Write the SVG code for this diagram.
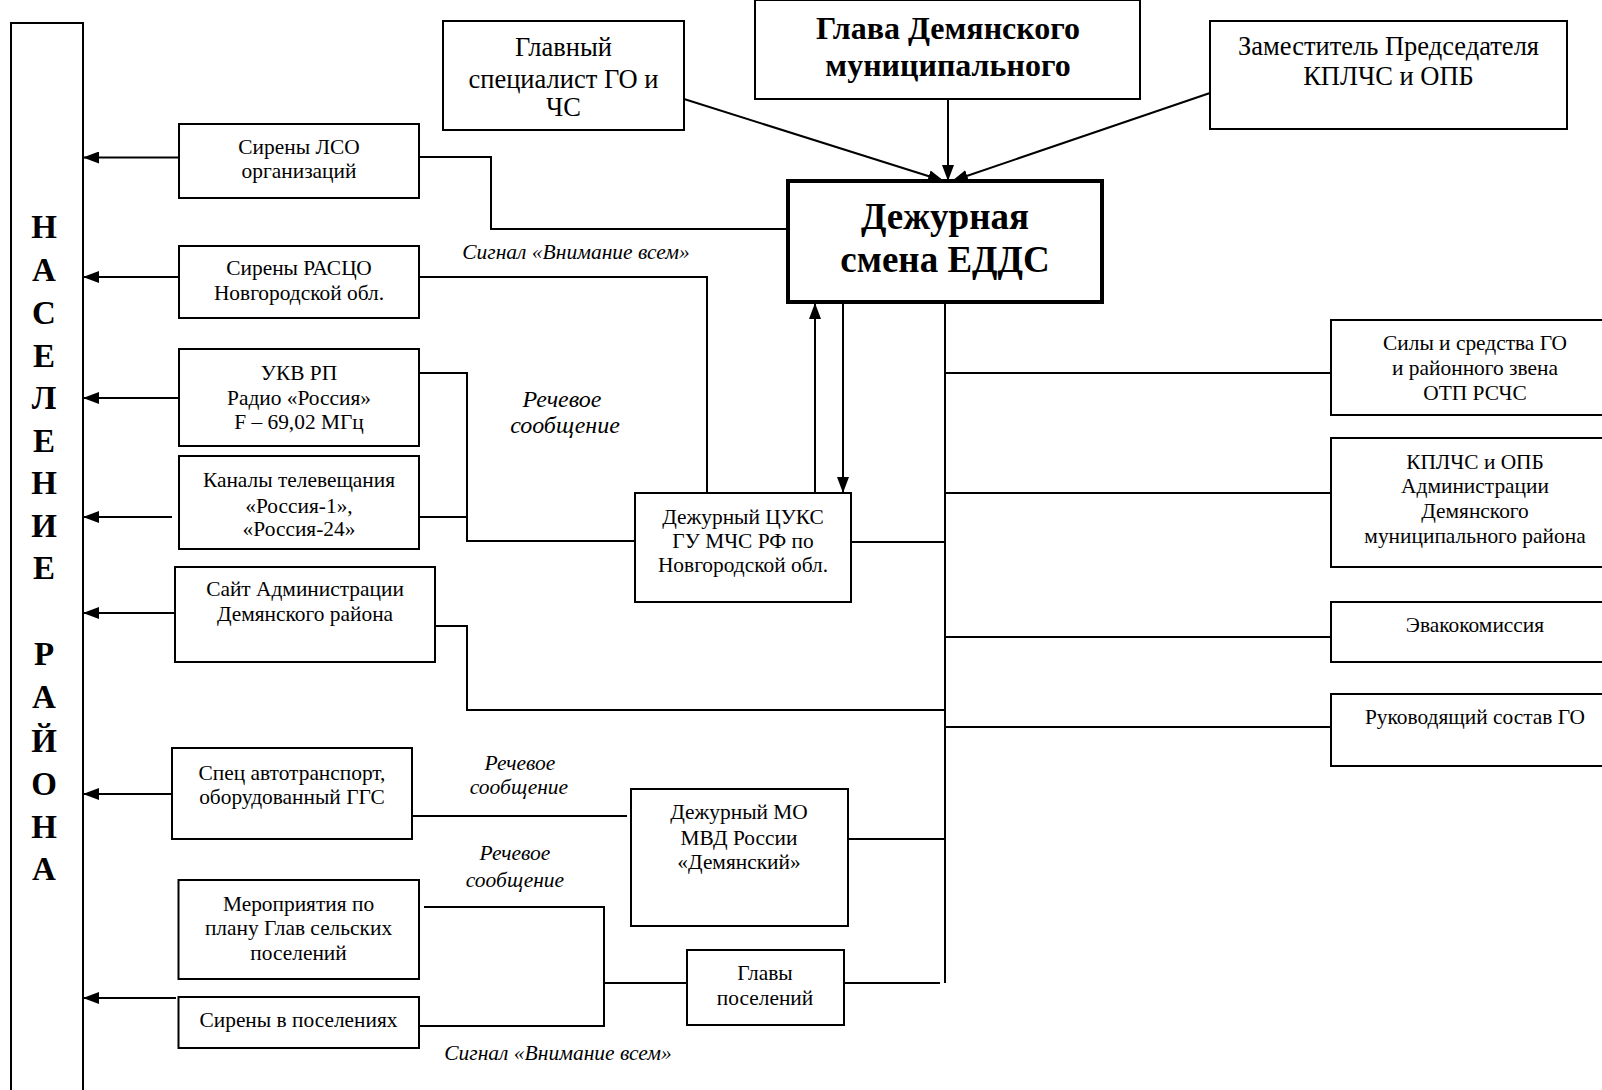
<svg xmlns="http://www.w3.org/2000/svg" width="1602" height="1090" viewBox="0 0 1602 1090">
<style>
.box{fill:#fff;stroke:#000;stroke-width:2}
.thick{stroke-width:4}
.t{font-family:"Liberation Serif","Times New Roman",serif;font-size:21.4px;text-anchor:middle;fill:#000}
.b{font-weight:bold}
.it{font-style:italic;font-size:21.5px}
.ln{fill:none;stroke:#000;stroke-width:2}
</style>
<defs>
<marker id="ah" viewBox="0 0 16 12" refX="16" refY="6" markerWidth="16" markerHeight="12" orient="auto" markerUnits="userSpaceOnUse"><path d="M0,0 L16,6 L0,12 z" fill="#000"/></marker>
</defs>
<rect width="1602" height="1090" fill="#fff"/>

<g id="connectors">
<path class="ln" marker-end="url(#ah)" d="M179,157.5 H83"/>
<path class="ln" marker-end="url(#ah)" d="M179,277 H83"/>
<path class="ln" marker-end="url(#ah)" d="M179,398 H83"/>
<path class="ln" marker-end="url(#ah)" d="M172,517 H83"/>
<path class="ln" marker-end="url(#ah)" d="M175,613 H83"/>
<path class="ln" marker-end="url(#ah)" d="M172,794 H83"/>
<path class="ln" marker-end="url(#ah)" d="M176,998 H83"/>
<path class="ln" marker-end="url(#ah)" d="M684,99 L944,181"/>
<path class="ln" marker-end="url(#ah)" d="M948,99 V181"/>
<path class="ln" marker-end="url(#ah)" d="M1210,93 L952,181"/>
<path class="ln" d="M419,157 H491 V229 H788"/>
<path class="ln" d="M419,277 H707 V493"/>
<path class="ln" d="M419,373 H467 V541 H635"/>
<path class="ln" d="M419,517 H467"/>
<path class="ln" d="M435,626 H467 V710 H945"/>
<path class="ln" marker-end="url(#ah)" d="M815,493 V303"/>
<path class="ln" marker-end="url(#ah)" d="M843,303 V493"/>
<path class="ln" d="M945,303 V983"/>
<path class="ln" d="M851,542 H945"/>
<path class="ln" d="M945,373 H1331"/>
<path class="ln" d="M945,493 H1331"/>
<path class="ln" d="M945,637 H1331"/>
<path class="ln" d="M945,727 H1331"/>
<path class="ln" d="M848,839 H945"/>
<path class="ln" d="M843,983 H940"/>
<path class="ln" d="M412,816 H627"/>
<path class="ln" d="M424,907 H604 V1026 H419"/>
<path class="ln" d="M604,983 H687"/>
</g>

<g id="labels">
<text class="t it" x="576" y="259">Сигнал «Внимание всем»</text>
<text class="t it" style="font-size:24px" x="562" y="407">Речевое</text>
<text class="t it" style="font-size:24px" x="565" y="433">сообщение</text>
<text class="t it" x="520" y="770">Речевое</text>
<text class="t it" x="519" y="794">сообщение</text>
<text class="t it" x="515" y="860">Речевое</text>
<text class="t it" x="515" y="887">сообщение</text>
<text class="t it" x="558" y="1060">Сигнал «Внимание всем»</text>
</g>

<g id="population">
<rect class="box" x="11" y="23" width="72" height="1100"/>
<g class="t b" style="font-size:33px">
<text x="44" y="238">Н</text>
<text x="44" y="281">А</text>
<text x="44" y="324">С</text>
<text x="44" y="367">Е</text>
<text x="44" y="409">Л</text>
<text x="44" y="452">Е</text>
<text x="44" y="494">Н</text>
<text x="44" y="537">И</text>
<text x="44" y="579">Е</text>
<text x="44" y="665">Р</text>
<text x="44" y="708">А</text>
<text x="44" y="752">Й</text>
<text x="44" y="795">О</text>
<text x="44" y="838">Н</text>
<text x="44" y="880">А</text>
</g>
</g>

<g id="glavny-spec">
<rect class="box" x="443" y="21" width="241" height="109"/>
<text class="t" style="font-size:26.5px" x="563.5" y="56">Главный</text>
<text class="t" style="font-size:26.5px" x="563.5" y="88">специалист ГО и</text>
<text class="t" style="font-size:26.5px" x="563.5" y="116">ЧС</text>
</g>

<g id="glava">
<rect class="box" x="755" y="0" width="385" height="99"/>
<text class="t b" style="font-size:32px" x="948" y="39">Глава Демянского</text>
<text class="t b" style="font-size:32px" x="948" y="76">муниципального</text>
</g>

<g id="zamestitel">
<rect class="box" x="1210" y="21" width="357" height="108"/>
<text class="t" style="font-size:26.5px" x="1388.5" y="55">Заместитель Председателя</text>
<text class="t" style="font-size:26.5px" x="1388.5" y="85">КПЛЧС и ОПБ</text>
</g>

<g id="edds">
<rect class="box thick" x="788" y="181" width="314" height="121"/>
<text class="t b" style="font-size:37px" x="945" y="229">Дежурная</text>
<text class="t b" style="font-size:37px" x="945" y="272">смена ЕДДС</text>
</g>

<g id="sireny-lso">
<rect class="box" x="179" y="124" width="240" height="74"/>
<text class="t" x="299" y="154">Сирены ЛСО</text>
<text class="t" x="299" y="178">организаций</text>
</g>

<g id="sireny-rasco">
<rect class="box" x="179" y="246" width="240" height="72"/>
<text class="t" x="299" y="275">Сирены РАСЦО</text>
<text class="t" x="299" y="300">Новгородской обл.</text>
</g>

<g id="ukv">
<rect class="box" x="179" y="349" width="240" height="97"/>
<text class="t" x="299" y="380">УКВ РП</text>
<text class="t" x="299" y="405">Радио «Россия»</text>
<text class="t" x="299" y="429">F – 69,02 МГц</text>
</g>

<g id="tv">
<rect class="box" x="179" y="456" width="240" height="93"/>
<text class="t" x="299" y="487">Каналы телевещания</text>
<text class="t" x="299" y="513">«Россия-1»,</text>
<text class="t" x="299" y="536">«Россия-24»</text>
</g>

<g id="sait">
<rect class="box" x="175" y="567" width="260" height="95"/>
<text class="t" x="305" y="596">Сайт Администрации</text>
<text class="t" x="305" y="621">Демянского района</text>
</g>

<g id="cuks">
<rect class="box" x="635" y="493" width="216" height="109"/>
<text class="t" x="743" y="524">Дежурный ЦУКС</text>
<text class="t" x="743" y="548">ГУ МЧС РФ по</text>
<text class="t" x="743" y="572">Новгородской обл.</text>
</g>

<g id="sily">
<rect class="box" x="1331" y="320" width="300" height="95"/>
<text class="t" x="1475" y="350">Силы и средства ГО</text>
<text class="t" x="1475" y="375">и районного звена</text>
<text class="t" x="1475" y="400">ОТП РСЧС</text>
</g>

<g id="kplchs">
<rect class="box" x="1331" y="438" width="300" height="129"/>
<text class="t" x="1475" y="469">КПЛЧС и ОПБ</text>
<text class="t" x="1475" y="493">Администрации</text>
<text class="t" x="1475" y="518">Демянского</text>
<text class="t" x="1475" y="543">муниципального района</text>
</g>

<g id="evako">
<rect class="box" x="1331" y="602" width="300" height="60"/>
<text class="t" x="1475" y="632">Эвакокомиссия</text>
</g>

<g id="rukovod">
<rect class="box" x="1331" y="694" width="300" height="72"/>
<text class="t" x="1475" y="724">Руководящий состав ГО</text>
</g>

<g id="spec">
<rect class="box" x="172" y="748" width="240" height="91"/>
<text class="t" x="292" y="780">Спец автотранспорт,</text>
<text class="t" x="292" y="804">оборудованный ГГС</text>
</g>

<g id="mvd">
<rect class="box" x="631" y="789" width="217" height="137"/>
<text class="t" x="739" y="819">Дежурный МО</text>
<text class="t" x="739" y="845">МВД России</text>
<text class="t" x="739" y="869">«Демянский»</text>
</g>

<g id="meropr">
<rect class="box" x="178.5" y="880" width="240.5" height="99"/>
<text class="t" x="298.5" y="911">Мероприятия по</text>
<text class="t" x="298.5" y="935">плану Глав сельских</text>
<text class="t" x="298.5" y="960">поселений</text>
</g>

<g id="sireny-pos">
<rect class="box" x="178.5" y="997" width="240.5" height="51"/>
<text class="t" x="298.5" y="1027">Сирены в поселениях</text>
</g>

<g id="glavy">
<rect class="box" x="687" y="950" width="157" height="75"/>
<text class="t" x="765" y="980">Главы</text>
<text class="t" x="765" y="1005">поселений</text>
</g>
</svg>
